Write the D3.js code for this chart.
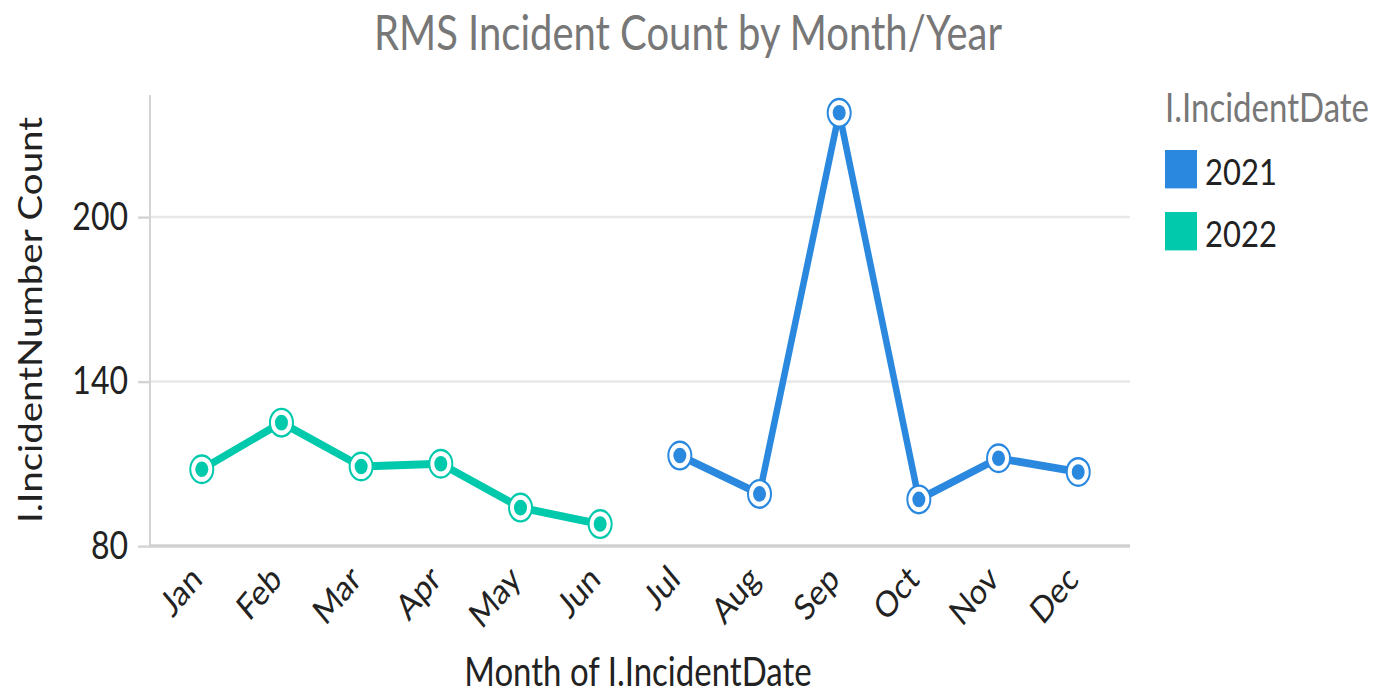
<!DOCTYPE html>
<html>
<head>
<meta charset="utf-8">
<script src="https://cdn.jsdelivr.net/npm/d3@7"></script>
<style>
  html, body { margin: 0; padding: 0; background: #fff; overflow: hidden; }
  svg { display: block; font-family: Lato, sans-serif; }
</style>
</head>
<body>
<script>
// the reference picture is stretched vertically, so draw flat and stretch the group
var S = 1.2;
var W = 1386, H = 694;

var months = ["Jan", "Feb", "Mar", "Apr", "May", "Jun",
              "Jul", "Aug", "Sep", "Oct", "Nov", "Dec"];
var years = ["2021", "2022"];
var colors = ["#2a88df", "#00c9ac"];
var months2022 = ["Jan", "Feb", "Mar", "Apr", "May", "Jun"];
var values2022 = [108, 125, 109, 110, 94, 88];
var months2021 = ["Jul", "Aug", "Sep", "Oct", "Nov", "Dec"];
var values2021 = [113, 99, 238, 97, 112, 107];
var yTicks = [80, 140, 200];

var svg = d3.select("body").append("svg")
    .attr("width", W)
    .attr("height", H)
  .append("g")
    .attr("transform", "scale(1," + S + ")");

var pLeft = 150, pRight = 1130, pTop = 95 / S, pBottom = 546 / S;

var x = d3.scalePoint().domain(months).range([pLeft, pRight]).padding(0.65);
var y = d3.scaleLinear().domain([80, 244.5]).range([pBottom, pTop]);

// grid
svg.append("g").selectAll("line")
    .data(yTicks.slice(1))
    .enter().append("line")
    .attr("x1", pLeft).attr("x2", pRight)
    .attr("y1", function(d){ return y(d); })
    .attr("y2", function(d){ return y(d); })
    .style("stroke", "#e8e8e8")
    .style("stroke-width", 2);

// y axis
var ya = svg.append("g")
    .attr("transform", "translate(" + pLeft + ",0)")
    .call(d3.axisLeft(y).tickValues(yTicks).tickSize(12).tickPadding(10));
ya.select(".domain").remove();
ya.append("line")
    .attr("y1", pTop).attr("y2", pBottom)
    .style("stroke", "#d4d4d4").style("stroke-width", 2);
ya.selectAll(".tick line").style("stroke", "#d4d4d4").style("stroke-width", 2);
ya.selectAll(".tick text")
    .style("font-family", "Lato").style("font-size", "32px").style("fill", "#222");

// x axis
var xa = svg.append("g")
    .attr("transform", "translate(0," + pBottom + ")")
    .call(d3.axisBottom(x).tickSize(0).tickPadding(0));
xa.select(".domain").remove();
xa.append("line")
    .attr("x1", pLeft).attr("x2", pRight)
    .style("stroke", "#d0d0d0").style("stroke-width", 3);
xa.selectAll(".tick text")
    .attr("transform", "translate(-6,22) rotate(-45)")
    .attr("dy", "0.35em")
    .attr("x", 0).attr("y", 0)
    .style("text-anchor", "end")
    .style("font-family", "Lato").style("font-size", "30px").style("fill", "#222");

// lines + markers
var line = d3.line()
    .x(function(d){ return x(d[0]); })
    .y(function(d){ return y(d[1]); });

var series = [
    {year: "2022", color: colors[1], pts: d3.zip(months2022, values2022)},
    {year: "2021", color: colors[0], pts: d3.zip(months2021, values2021)}
];

series.forEach(function(s){
    var g = svg.append("g");
    g.append("path")
        .datum(s.pts)
        .attr("d", line)
        .style("fill", "none")
        .style("stroke", s.color)
        .style("stroke-width", 6.5)
        .style("stroke-linejoin", "round");
    var m = g.selectAll("g.mark").data(s.pts).enter().append("g")
        .attr("transform", function(d){ return "translate(" + x(d[0]) + "," + y(d[1]) + ")"; });
    m.append("circle").attr("r", 11.5)
        .style("fill", "#fff").style("stroke", s.color).style("stroke-width", 2);
    m.append("circle").attr("r", 6.5).style("fill", s.color);
});

// titles
svg.append("text")
    .attr("x", 688).attr("y", 50 / S)
    .attr("text-anchor", "middle")
    .style("font-size", "40px").style("fill", "#777")
    .text("RMS Incident Count by Month/Year");

svg.append("text")
    .attr("transform", "translate(42," + (320 / S) + ") rotate(-90)")
    .attr("text-anchor", "middle")
    .style("font-size", "32px").style("fill", "#222")
    .text("I.IncidentNumber Count");

svg.append("text")
    .attr("x", 638).attr("y", 686 / S)
    .attr("text-anchor", "middle")
    .style("font-size", "33px").style("fill", "#222")
    .text("Month of I.IncidentDate");

// legend
var lg = svg.append("g").attr("transform", "translate(1165,0)");
lg.append("text")
    .attr("y", 122 / S)
    .style("font-size", "33px").style("fill", "#777")
    .text("I.IncidentDate");
var li = lg.selectAll("g.item").data(years).enter().append("g")
    .attr("transform", function(d, i){ return "translate(0," + ((150 + i * 62) / S) + ")"; });
li.append("rect")
    .attr("width", 32).attr("height", 32)
    .style("fill", function(d, i){ return colors[i]; });
li.append("text")
    .attr("x", 40).attr("y", 29)
    .style("font-size", "31px").style("fill", "#222")
    .text(function(d){ return d; });
</script>
</body>
</html>
